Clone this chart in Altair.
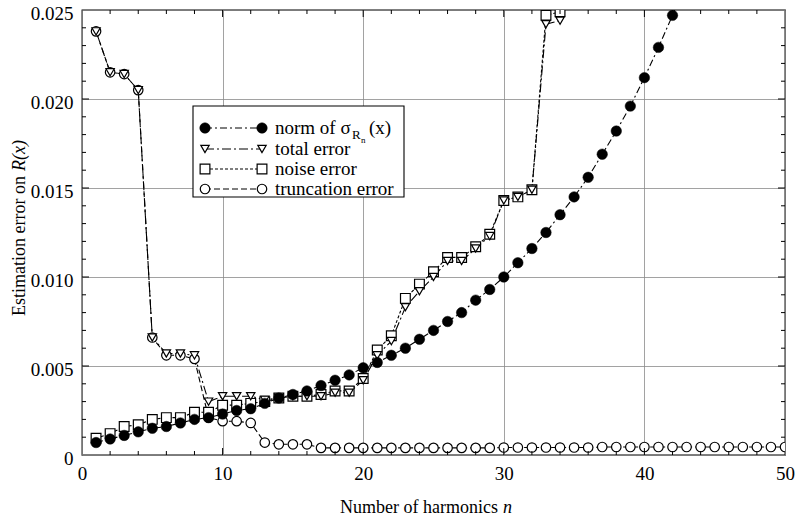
import altair as alt
import pandas as pd

# ---------------- data ----------------
n_norm = list(range(1, 44))
norm_sigma = [0.0007, 0.0009, 0.0011, 0.0013, 0.0015, 0.0016, 0.0018, 0.0020, 0.0021, 0.0023,
              0.0025, 0.0026, 0.0029, 0.0032, 0.0034, 0.0036, 0.0039, 0.0042, 0.0045, 0.0049,
              0.0052, 0.0056, 0.0060, 0.0065, 0.0070, 0.0075, 0.0080, 0.0087, 0.0093, 0.0100,
              0.0108, 0.0116, 0.0125, 0.0135, 0.0145, 0.0156, 0.0169, 0.0182, 0.0196, 0.0212,
              0.0229, 0.0247, 0.0268]

n_err = list(range(1, 36))
total_error = [0.0238, 0.0215, 0.0214, 0.0205, 0.0066, 0.0057, 0.0057, 0.0056, 0.0030, 0.0033,
               0.0033, 0.0033, 0.0031, 0.0032, 0.0033, 0.0033, 0.0033, 0.0035, 0.0035, 0.0042,
               0.0056, 0.0064, 0.0083, 0.0092, 0.0100, 0.0109, 0.0109, 0.0116, 0.0123, 0.0143,
               0.0145, 0.0149, 0.0242, 0.0244, 0.0310]
noise_error = [0.00094, 0.0012, 0.0016, 0.0017, 0.0020, 0.0021, 0.0021, 0.0024, 0.0024, 0.0028,
               0.0028, 0.0029, 0.0030, 0.0032, 0.0033, 0.0033, 0.0034, 0.0036, 0.0036, 0.0043,
               0.0059, 0.0067, 0.0088, 0.0096, 0.0103, 0.0111, 0.0111, 0.0117, 0.0124, 0.0143,
               0.0145, 0.0149, 0.0247, 0.0249, 0.0310]

n_trunc = list(range(1, 51))
truncation_error = [0.0238, 0.0215, 0.0214, 0.0205, 0.0066, 0.0056, 0.0056, 0.0054, 0.0021, 0.0019,
                    0.0019, 0.0018, 0.0007, 0.0006, 0.0006, 0.0006, 0.0004, 0.0004, 0.0004, 0.0004,
                    0.0004, 0.0004, 0.0004, 0.0004, 0.0004, 0.0004, 0.0004, 0.0004, 0.0004, 0.00042,
                    0.00042, 0.00042, 0.00042, 0.00042, 0.00042, 0.00042, 0.00045, 0.00045, 0.00045, 0.00045,
                    0.00045, 0.00045, 0.00045, 0.00045, 0.00045, 0.00045, 0.00045, 0.00045, 0.00045, 0.00045]

x_major = [0, 10, 20, 30, 40, 50]
x_minor = [v for v in range(2, 50, 2) if v % 10 != 0]
x_major_inner = [10, 20, 30, 40]
y_major = [0, 0.005, 0.010, 0.015, 0.020, 0.025]
y_minor = [i / 1000 for i in range(1, 25) if i % 5 != 0]
y_major_inner = [0.005, 0.010, 0.015, 0.020]

legend_labels = ["norm of σ", "total error", "noise error", "truncation error"]

# ---------------- helpers ----------------
W, H = 703, 445
FONT = "Liberation Serif"
xs = alt.Scale(domain=[0, 50], nice=False, zero=False)
ys = alt.Scale(domain=[0, 0.025], nice=False, zero=False)

X_AXIS = alt.Axis(values=x_major, grid=True, ticks=False, tickSize=0, domain=False,
                  labelPadding=9, labelFontSize=19, labelFont=FONT, labelColor="black",
                  gridColor="#8a8a8a", gridWidth=0.8, labelFlush=False, title=None)
Y_AXIS = alt.Axis(values=y_major, grid=True, ticks=False, tickSize=0, domain=False,
                  labelPadding=9, labelFontSize=19, labelFont=FONT, labelColor="black",
                  gridColor="#8a8a8a", gridWidth=0.8, labelFlush=False, labelOffset=3, title=None,
                  labelExpr="datum.value == 0 ? '0' : format(datum.value, '.3f')")


def X(field):
    return alt.X(field, scale=xs, axis=X_AXIS, title=None)


def Y(field):
    return alt.Y(field, scale=ys, axis=Y_AXIS, title=None)


df_norm = pd.DataFrame({"n": n_norm, "v": norm_sigma})
df_total = pd.DataFrame({"n": n_err, "v": total_error})
df_noise = pd.DataFrame({"n": n_err, "v": noise_error})
df_trunc = pd.DataFrame({"n": n_trunc, "v": truncation_error})

dash_norm = [7, 3, 2, 3]
dash_total = [9, 3, 2, 3]
dash_noise = [3, 2]
dash_trunc = [6, 3]


def line_layer(df, dash):
    return alt.Chart(df).mark_line(color="black", strokeWidth=1.1, strokeDash=dash, clip=True).encode(
        x=X("n:Q"), y=Y("v:Q"))


def point_layer(df, shape, size, fill, sw=1.2):
    return alt.Chart(df).mark_point(shape=shape, size=size, filled=True, fill=fill, stroke="black",
                                    strokeWidth=sw, opacity=1, fillOpacity=1, clip=True).encode(
        x=X("n:Q"), y=Y("v:Q"))


layers = [line_layer(df_trunc, dash_trunc),
          line_layer(df_noise, dash_noise),
          line_layer(df_total, dash_total),
          line_layer(df_norm, dash_norm),
          point_layer(df_trunc, "circle", 90, "white"),
          point_layer(df_noise, "square", 95, "white"),
          point_layer(df_total, "triangle-down", 70, "white"),
          point_layer(df_norm, "circle", 110, "black", 0.5)]


# inward ticks on all four sides
def xtick(vals, y0, y1):
    return alt.Chart(pd.DataFrame({"n": vals})).mark_rule(color="black", strokeWidth=1).encode(
        x=X("n:Q"), y=alt.value(y0), y2=alt.value(y1))


def ytick(vals, x0, x1):
    return alt.Chart(pd.DataFrame({"v": vals})).mark_rule(color="black", strokeWidth=1).encode(
        y=Y("v:Q"), x=alt.value(x0), x2=alt.value(x1))


layers += [xtick(x_minor, H, H - 4), xtick(x_major_inner, H, H - 7),
           xtick(x_minor, 0, 4), xtick(x_major_inner, 0, 7),
           ytick(y_minor, 0, 4), ytick(y_major_inner, 0, 7),
           ytick(y_minor, W, W - 4), ytick(y_major_inner, W, W - 7)]

# ---------------- legend (drawn manually) ----------------
one = pd.DataFrame({"a": [0]})
bx0, bx1, by0, by1 = 111, 322, 96, 187
layers.append(alt.Chart(one).mark_rect(fill="white", stroke="black", strokeWidth=1.1).encode(
    x=alt.value(bx0), x2=alt.value(bx1), y=alt.value(by0), y2=alt.value(by1)))

rows_y = [118, 139, 159, 179]
styles = [("circle", 110, "black", dash_norm, 0.5),
          ("triangle-down", 70, "white", dash_total, 1.2),
          ("square", 95, "white", dash_noise, 1.2),
          ("circle", 90, "white", dash_trunc, 1.2)]
mx0, mx1, tx = 123, 180, 193
for lab, ry, (shape, size, fill, dash, sw) in zip(legend_labels, rows_y, styles):
    layers.append(alt.Chart(one).mark_rule(color="black", strokeWidth=1.1, strokeDash=dash).encode(
        x=alt.value(mx0), x2=alt.value(mx1), y=alt.value(ry)))
    for mx in (mx0, mx1):
        layers.append(alt.Chart(one).mark_point(shape=shape, size=size, filled=True, fill=fill,
                                                stroke="black", strokeWidth=sw, opacity=1).encode(
            x=alt.value(mx), y=alt.value(ry)))
    layers.append(alt.Chart(pd.DataFrame({"label": [lab]})).mark_text(
        align="left", baseline="middle", font=FONT, fontSize=19, color="black").encode(
        x=alt.value(tx), y=alt.value(ry), text="label:N"))

# subscripts of sigma_{R_n}(x)
layers.append(alt.Chart(pd.DataFrame({"s": ["R"]})).mark_text(
    align="left", baseline="middle", font=FONT, fontSize=13, color="black").encode(
    x=alt.value(270), y=alt.value(125), text="s:N"))
layers.append(alt.Chart(pd.DataFrame({"s": ["n"]})).mark_text(
    align="left", baseline="middle", font=FONT, fontSize=9, color="black").encode(
    x=alt.value(279), y=alt.value(130), text="s:N"))
layers.append(alt.Chart(pd.DataFrame({"s": ["(x)"]})).mark_text(
    align="left", baseline="middle", font=FONT, fontSize=19, color="black").encode(
    x=alt.value(287), y=alt.value(118), text="s:N"))

# ---------------- axis titles with italic parts ----------------
layers.append(alt.Chart(pd.DataFrame({"s": ["Number of harmonics"]})).mark_text(
    align="right", baseline="middle", font=FONT, fontSize=18, color="black").encode(
    x=alt.value(416), y=alt.value(498), text="s:N"))
layers.append(alt.Chart(pd.DataFrame({"s": ["n"]})).mark_text(
    align="left", baseline="middle", font=FONT, fontSize=18, fontStyle="italic", color="black").encode(
    x=alt.value(421), y=alt.value(498), text="s:N"))
layers.append(alt.Chart(pd.DataFrame({"s": ["Estimation error on"]})).mark_text(
    align="right", baseline="middle", font=FONT, fontSize=18, angle=270, color="black").encode(
    x=alt.value(-62), y=alt.value(166), text="s:N"))
layers.append(alt.Chart(pd.DataFrame({"s": ["R(x)"]})).mark_text(
    align="left", baseline="middle", font=FONT, fontSize=18, angle=270, fontStyle="italic",
    color="black").encode(
    x=alt.value(-62), y=alt.value(161), text="s:N"))

chart = alt.layer(*layers).properties(
    width=W, height=H,
    autosize=alt.AutoSizeParams(type="none"),
    padding={"left": 82, "top": 10, "right": 10, "bottom": 63},
    background="white",
).configure_view(stroke="black", strokeWidth=1.3)

chart.save("out.html", embed_options={"renderer": "svg", "actions": False})
